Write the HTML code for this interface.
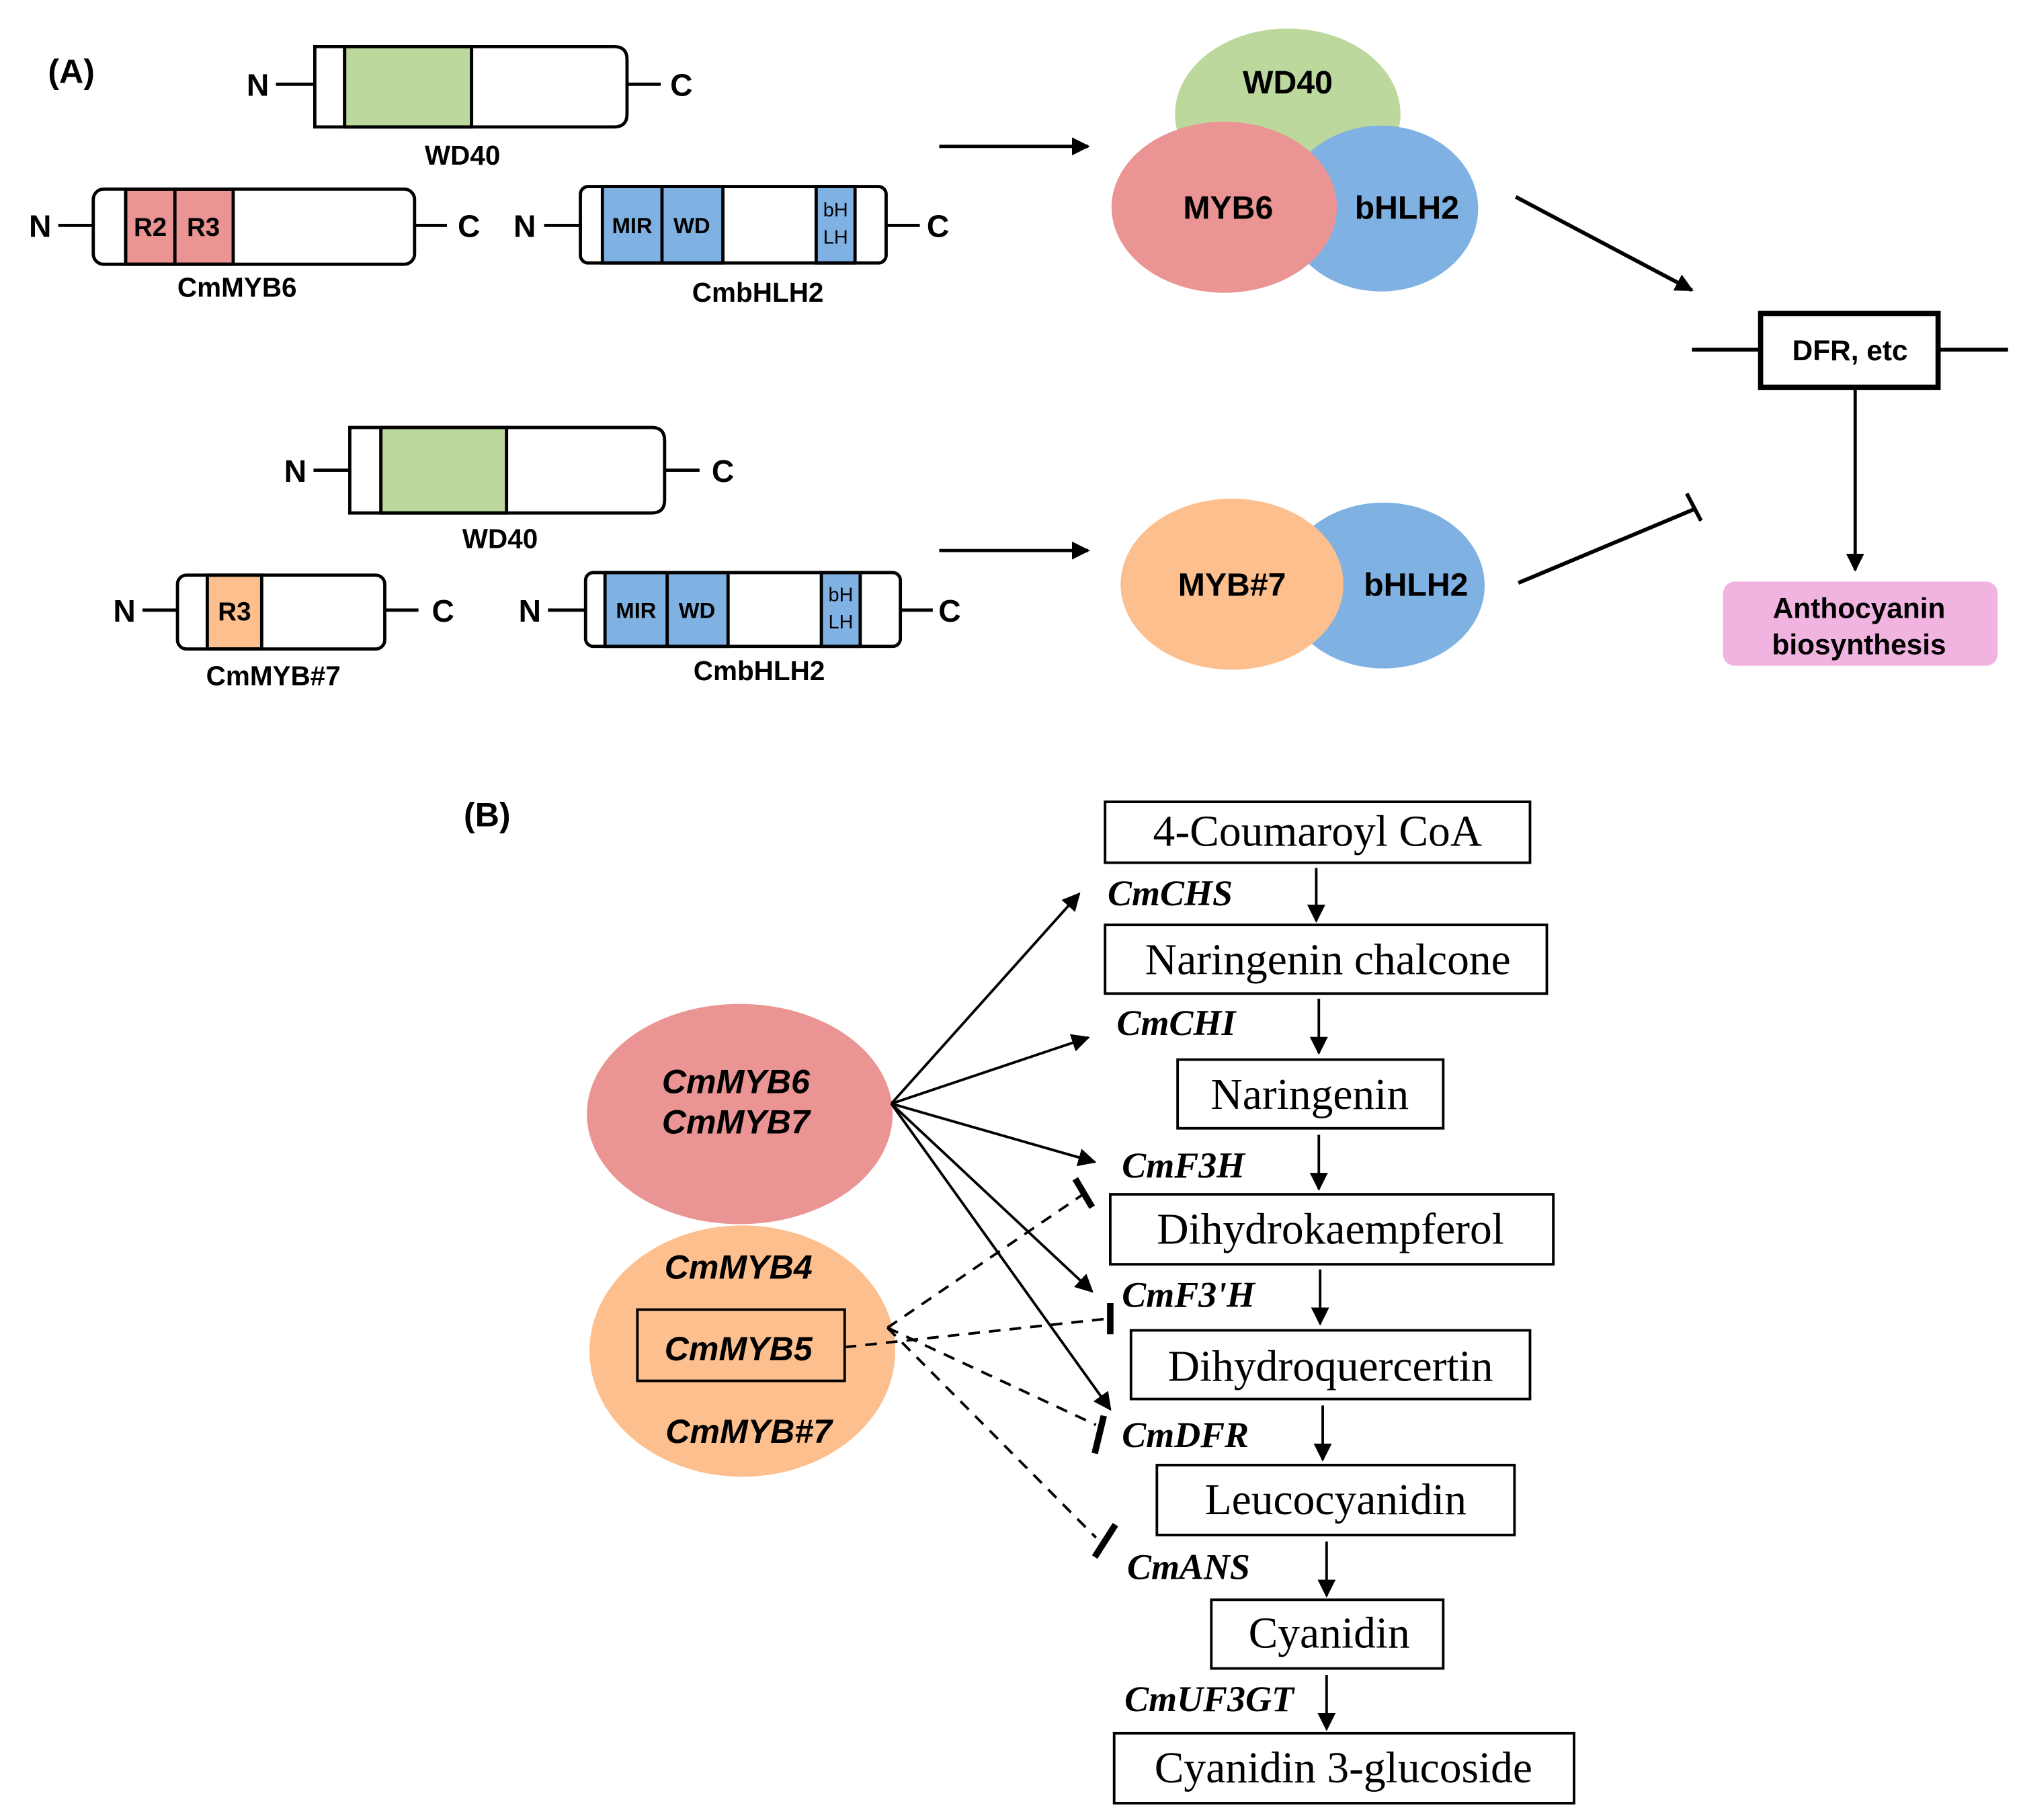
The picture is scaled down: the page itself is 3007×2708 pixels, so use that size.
<!DOCTYPE html>
<html><head><meta charset="utf-8"><style>
html,body{margin:0;padding:0;background:#fff;}
svg{display:block;}
.s{font-family:"Liberation Sans",sans-serif;font-weight:bold;}
.r{font-family:"Liberation Serif",serif;}
</style></head><body>
<svg width="3007" height="2708" viewBox="0 0 1560 1405" preserveAspectRatio="none" xmlns="http://www.w3.org/2000/svg">
<defs>
<marker id="ah" viewBox="0 0 10 10" refX="9" refY="5" markerWidth="7" markerHeight="7" markerUnits="userSpaceOnUse" orient="auto"><path d="M0,0 L10,5 L0,10 z" fill="#000"/></marker>
<marker id="ah2" viewBox="0 0 10 10" refX="9" refY="5" markerWidth="14" markerHeight="14" markerUnits="userSpaceOnUse" orient="auto"><path d="M0,0 L10,5 L0,10 z" fill="#000"/></marker>
</defs>
<rect width="1560" height="1405" fill="#fff"/>
<g class="s" font-size="26"><text x="37" y="64">(A)</text><text x="358" y="638">(B)</text></g>

<g stroke="#000" stroke-width="2.5">
<line x1="213" y1="65" x2="243" y2="65"/><line x1="484" y1="65" x2="510" y2="65"/>
<rect x="266" y="36" width="98" height="62" fill="#bdd89c"/>
<path d="M243,36 H474 Q484,36 484,46 V88 Q484,98 474,98 H243 Z" fill="none"/>
<line x1="266" y1="36" x2="266" y2="98"/><line x1="364" y1="36" x2="364" y2="98"/>
</g>
<g stroke="#000" stroke-width="2.5">
<line x1="45" y1="174" x2="72" y2="174"/><line x1="320" y1="174" x2="345" y2="174"/>
<rect x="97" y="146" width="83" height="58" fill="#ea9493"/>
<line x1="135" y1="146" x2="135" y2="204"/>
<rect x="72" y="146" width="248" height="58" rx="8" fill="none"/>
<line x1="97" y1="146" x2="97" y2="204"/>
</g>
<g stroke="#000" stroke-width="2.5">
<line x1="420" y1="174" x2="448" y2="174"/><line x1="684" y1="174" x2="710" y2="174"/>
<rect x="465" y="144" width="93" height="59" fill="#7fb1e2"/>
<line x1="511" y1="144" x2="511" y2="203"/>
<rect x="630" y="144" width="30" height="59" fill="#7fb1e2"/>
<rect x="448" y="144" width="236" height="59" rx="6" fill="none"/>
</g>
<g stroke="#000" stroke-width="2.5">
<line x1="242" y1="363" x2="270" y2="363"/><line x1="513" y1="363" x2="540" y2="363"/>
<rect x="294" y="330" width="97" height="66" fill="#bdd89c"/>
<path d="M270,330 H503 Q513,330 513,340 V386 Q513,396 503,396 H270 Z" fill="none"/>
<line x1="294" y1="330" x2="294" y2="396"/>
</g>
<g stroke="#000" stroke-width="2.5">
<line x1="110" y1="471" x2="137" y2="471"/><line x1="297" y1="471" x2="323" y2="471"/>
<rect x="160" y="444" width="42" height="57" fill="#fdbf8d"/>
<rect x="137" y="444" width="160" height="57" rx="7" fill="none"/>
</g>
<g stroke="#000" stroke-width="2.5">
<line x1="423" y1="471" x2="452" y2="471"/><line x1="695" y1="471" x2="720" y2="471"/>
<rect x="467" y="442" width="95" height="57" fill="#7fb1e2"/>
<line x1="515" y1="442" x2="515" y2="499"/>
<rect x="634" y="442" width="30" height="57" fill="#7fb1e2"/>
<rect x="452" y="442" width="243" height="57" rx="6" fill="none"/>
</g>
<g class="s" font-size="24" text-anchor="middle">
<text x="199" y="74">N</text><text x="526" y="74">C</text>
<text x="31" y="183">N</text><text x="362" y="183">C</text>
<text x="405" y="183">N</text><text x="724" y="183">C</text>
<text x="228" y="372">N</text><text x="558" y="372">C</text>
<text x="96" y="480">N</text><text x="342" y="480">C</text>
<text x="409" y="480">N</text><text x="733" y="480">C</text>
</g>
<g class="s" font-size="21" text-anchor="middle">
<text x="357" y="127">WD40</text><text x="183" y="229">CmMYB6</text><text x="585" y="233">CmbHLH2</text>
<text x="386" y="423">WD40</text><text x="211" y="529">CmMYB#7</text><text x="586" y="525">CmbHLH2</text>
</g>
<g class="s" font-size="20" text-anchor="middle">
<text x="116" y="182">R2</text><text x="157" y="182">R3</text><text x="181" y="479">R3</text>
</g>
<g class="s" font-size="17" text-anchor="middle">
<text x="488" y="180">MIR</text><text x="534" y="180">WD</text>
<text x="491" y="477">MIR</text><text x="538" y="477">WD</text>
</g>
<g font-family="Liberation Sans,sans-serif" font-size="15" text-anchor="middle">
<text x="645" y="167">bH</text><text x="645" y="188">LH</text>
<text x="649" y="464">bH</text><text x="649" y="485">LH</text>
</g>

<g stroke="#000" stroke-width="2.5">
<line x1="725" y1="113" x2="840" y2="113" marker-end="url(#ah2)"/>
<line x1="725" y1="425" x2="840" y2="425" marker-end="url(#ah2)"/>
</g>
<ellipse cx="994" cy="88" rx="87" ry="66" fill="#bdd89c"/>
<ellipse cx="1066" cy="161" rx="75" ry="64" fill="#7fb1e2"/>
<ellipse cx="945" cy="160" rx="87" ry="66" fill="#ea9493"/>
<ellipse cx="1068" cy="452" rx="78" ry="64" fill="#7fb1e2"/>
<ellipse cx="951" cy="451" rx="86" ry="66" fill="#fdbf8d"/>
<g class="s" font-size="25" text-anchor="middle">
<text x="994" y="72">WD40</text><text x="948" y="169">MYB6</text><text x="1086" y="169">bHLH2</text>
<text x="951" y="460">MYB#7</text><text x="1093" y="460">bHLH2</text>
</g>
<g stroke="#000" stroke-width="3">
<line x1="1170" y1="152" x2="1306" y2="224" marker-end="url(#ah2)"/>
<line x1="1172" y1="450" x2="1308" y2="393"/>
<line x1="1302" y1="381" x2="1313" y2="402"/>
<line x1="1306" y1="270" x2="1358" y2="270"/><line x1="1496" y1="270" x2="1550" y2="270"/>
<rect x="1359" y="242" width="137" height="57" fill="#fff" stroke-width="4"/>
<line x1="1432" y1="299" x2="1432" y2="440" stroke-width="2.5" marker-end="url(#ah2)"/>
</g>
<text class="s" x="1428" y="278" font-size="22" text-anchor="middle">DFR, etc</text>
<rect x="1330" y="449" width="212" height="65" rx="9" fill="#f1b4e1"/>
<g class="s" font-size="22" text-anchor="middle"><text x="1435" y="477">Anthocyanin</text><text x="1435" y="505">biosynthesis</text></g>

<g fill="none" stroke="#000" stroke-width="2">
<rect x="853" y="619" width="328" height="47"/>
<rect x="853" y="714" width="341" height="53"/>
<rect x="909" y="818" width="205" height="53"/>
<rect x="857" y="922" width="342" height="54"/>
<rect x="873" y="1027" width="308" height="53"/>
<rect x="893" y="1131" width="276" height="54"/>
<rect x="935" y="1235" width="179" height="53"/>
<rect x="860" y="1338" width="355" height="54"/>
</g>
<g class="r" font-size="34" text-anchor="middle">
<text x="1017" y="653">4-Coumaroyl CoA</text>
<text x="1025" y="752">Naringenin chalcone</text>
<text x="1011" y="856">Naringenin</text>
<text x="1027" y="960">Dihydrokaempferol</text>
<text x="1027" y="1066">Dihydroquercertin</text>
<text x="1031" y="1169">Leucocyanidin</text>
<text x="1026" y="1272">Cyanidin</text>
<text x="1037" y="1376">Cyanidin 3-glucoside</text>
</g>
<g stroke="#000" stroke-width="2">
<line x1="1016" y1="670" x2="1016" y2="711" marker-end="url(#ah2)"/>
<line x1="1018" y1="771" x2="1018" y2="813" marker-end="url(#ah2)"/>
<line x1="1018" y1="876" x2="1018" y2="918" marker-end="url(#ah2)"/>
<line x1="1019" y1="980" x2="1019" y2="1022" marker-end="url(#ah2)"/>
<line x1="1021" y1="1085" x2="1021" y2="1127" marker-end="url(#ah2)"/>
<line x1="1024" y1="1190" x2="1024" y2="1232" marker-end="url(#ah2)"/>
<line x1="1024" y1="1293" x2="1024" y2="1335" marker-end="url(#ah2)"/>
</g>
<g class="r" font-size="28" font-style="italic" font-weight="bold">
<text x="855" y="699">CmCHS</text><text x="862" y="799">CmCHI</text><text x="866" y="909">CmF3H</text>
<text x="866" y="1009">CmF3'H</text><text x="866" y="1117">CmDFR</text><text x="870" y="1219">CmANS</text>
<text x="868" y="1321">CmUF3GT</text>
</g>
<ellipse cx="571" cy="860" rx="118" ry="85" fill="#ea9493"/>
<ellipse cx="573" cy="1043" rx="118" ry="97" fill="#fdbf8d"/>
<rect x="492" y="1011" width="160" height="55" fill="none" stroke="#000" stroke-width="2"/>
<g class="s" font-size="26" font-style="italic" text-anchor="middle">
<text x="568" y="844">CmMYB6</text><text x="568" y="875">CmMYB7</text>
<text x="570" y="987">CmMYB4</text><text x="570" y="1050">CmMYB5</text><text x="578" y="1114">CmMYB#7</text>
</g>
<g stroke="#000" stroke-width="2">
<line x1="688" y1="852" x2="833" y2="690" marker-end="url(#ah2)"/>
<line x1="688" y1="852" x2="840" y2="801" marker-end="url(#ah2)"/>
<line x1="688" y1="852" x2="845" y2="897" marker-end="url(#ah2)"/>
<line x1="688" y1="852" x2="843" y2="997" marker-end="url(#ah2)"/>
<line x1="688" y1="852" x2="857" y2="1088" marker-end="url(#ah2)"/>
</g>
<g stroke="#000" stroke-width="2" stroke-dasharray="9,7" fill="none">
<line x1="685" y1="1025" x2="836" y2="922"/>
<line x1="652" y1="1040" x2="855" y2="1018"/>
<line x1="685" y1="1025" x2="846" y2="1100"/>
<line x1="685" y1="1025" x2="846" y2="1187"/>
</g>
<g stroke="#000" stroke-width="5">
<line x1="830" y1="910" x2="843" y2="932"/>
<line x1="857" y1="1006" x2="857" y2="1030"/>
<line x1="852" y1="1093" x2="845" y2="1122"/>
<line x1="861" y1="1177" x2="845" y2="1202"/>
</g>
</svg>
</body></html>
